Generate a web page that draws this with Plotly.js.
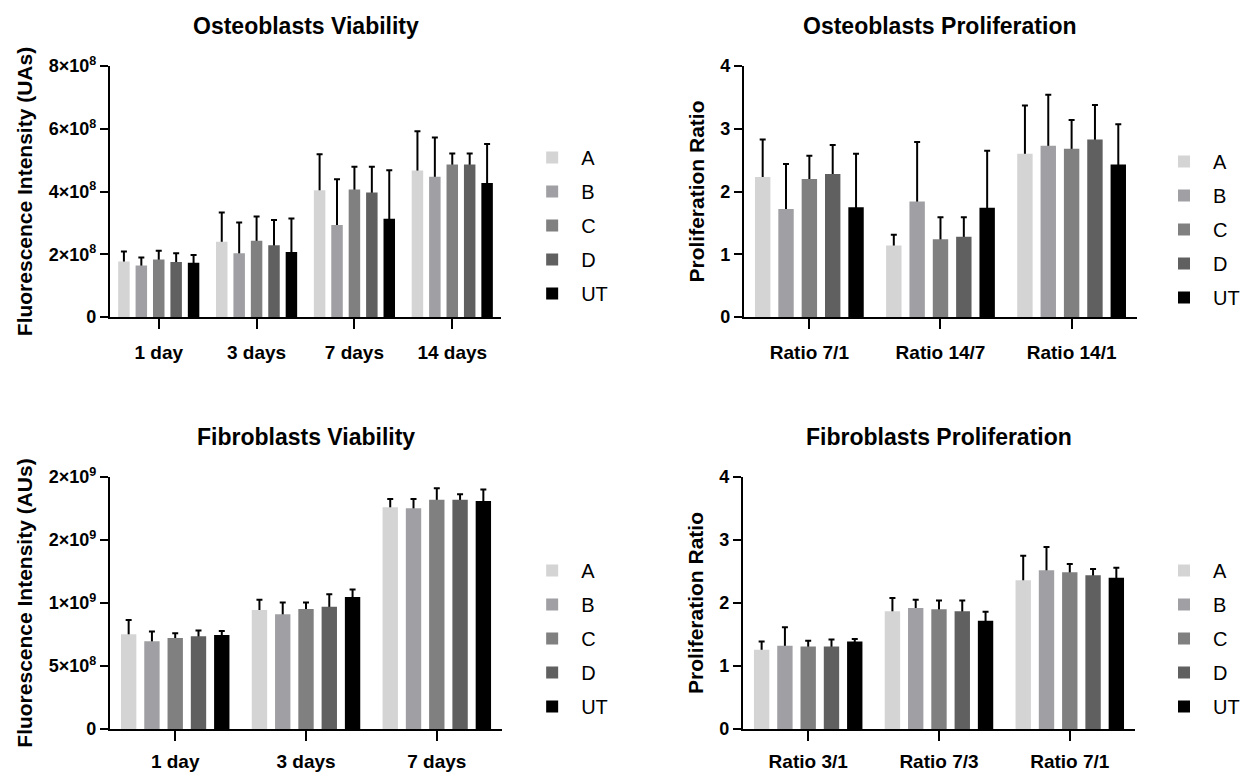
<!DOCTYPE html>
<html><head><meta charset="utf-8">
<script src="https://cdn.plot.ly/plotly-3.0.1.min.js"></script>
<style>html,body{margin:0;padding:0;background:#fff;} #chart{width:1245px;height:774px;}</style>
</head><body><div id="chart"></div>
<script>
// ---------- data ----------
const groups = ['A', 'B', 'C', 'D', 'UT'];

// Osteoblasts Viability (fluorescence, UAs)
const ovCategories = ['1 day', '3 days', '7 days', '14 days'];
const ovA  = [1.77e8, 2.40e8, 4.04e8, 4.67e8];
const ovB  = [1.64e8, 2.03e8, 2.93e8, 4.47e8];
const ovC  = [1.83e8, 2.43e8, 4.06e8, 4.86e8];
const ovD  = [1.75e8, 2.29e8, 3.97e8, 4.86e8];
const ovUT = [1.73e8, 2.07e8, 3.13e8, 4.27e8];
const ovSdA  = [0.32e8, 0.93e8, 1.15e8, 1.25e8];
const ovSdB  = [0.26e8, 0.98e8, 1.46e8, 1.25e8];
const ovSdC  = [0.28e8, 0.77e8, 0.73e8, 0.35e8];
const ovSdD  = [0.28e8, 0.80e8, 0.82e8, 0.35e8];
const ovSdUT = [0.25e8, 1.07e8, 1.55e8, 1.24e8];
const ovTickVals = [0, 2e8, 4e8, 6e8, 8e8];
const ovTickText = ['0', '2×10<sup>8</sup>', '4×10<sup>8</sup>', '6×10<sup>8</sup>', '8×10<sup>8</sup>'];

// Osteoblasts Proliferation (ratio)
const opCategories = ['Ratio 7/1', 'Ratio 14/7', 'Ratio 14/1'];
const opA  = [2.23, 1.14, 2.60];
const opB  = [1.72, 1.84, 2.73];
const opC  = [2.20, 1.24, 2.68];
const opD  = [2.28, 1.28, 2.83];
const opUT = [1.75, 1.74, 2.43];
const opSdA  = [0.60, 0.17, 0.77];
const opSdB  = [0.72, 0.95, 0.81];
const opSdC  = [0.37, 0.35, 0.46];
const opSdD  = [0.46, 0.31, 0.55];
const opSdUT = [0.85, 0.91, 0.64];
const ratioTickVals = [0, 1, 2, 3, 4];
const ratioTickText = ['0', '1', '2', '3', '4'];

// Fibroblasts Viability (fluorescence, AUs)
const fvCategories = ['1 day', '3 days', '7 days'];
const fvA  = [0.752e9, 0.945e9, 1.760e9];
const fvB  = [0.697e9, 0.910e9, 1.752e9];
const fvC  = [0.723e9, 0.953e9, 1.820e9];
const fvD  = [0.736e9, 0.971e9, 1.820e9];
const fvUT = [0.747e9, 1.047e9, 1.810e9];
const fvSdA  = [0.113e9, 0.081e9, 0.066e9];
const fvSdB  = [0.076e9, 0.093e9, 0.074e9];
const fvSdC  = [0.037e9, 0.050e9, 0.090e9];
const fvSdD  = [0.045e9, 0.098e9, 0.043e9];
const fvSdUT = [0.031e9, 0.061e9, 0.090e9];
const fvTickVals = [0, 5e8, 1e9, 1.5e9, 2e9];
const fvTickText = ['0', '5×10<sup>8</sup>', '1×10<sup>9</sup>', '2×10<sup>9</sup>', '2×10<sup>9</sup>'];

// Fibroblasts Proliferation (ratio)
const fpCategories = ['Ratio 3/1', 'Ratio 7/3', 'Ratio 7/1'];
const fpA  = [1.256, 1.87, 2.36];
const fpB  = [1.32, 1.92, 2.52];
const fpC  = [1.31, 1.90, 2.49];
const fpD  = [1.31, 1.87, 2.44];
const fpUT = [1.39, 1.72, 2.40];
const fpSdA  = [0.134, 0.21, 0.39];
const fpSdB  = [0.295, 0.13, 0.37];
const fpSdC  = [0.09, 0.14, 0.13];
const fpSdD  = [0.11, 0.17, 0.10];
const fpSdUT = [0.04, 0.14, 0.16];

// ---------- style ----------
const groupColors = {A: '#d4d4d4', B: '#a0a0a4', C: '#808080', D: '#606060', UT: '#000000'};
const FONT = '"Liberation Sans", Arial, Helvetica, sans-serif';
const W = 1245, H = 774;
const px = v => v / W;
const py = v => 1 - v / H;

const panels = [
  {ax: '', leg: 'legend', cats: ovCategories, means: [ovA, ovB, ovC, ovD, ovUT], sds: [ovSdA, ovSdB, ovSdC, ovSdD, ovSdUT],
   tv: ovTickVals, tt: ovTickText, range: [0, 8e8], ytitle: 'Fluorescence Intensity (UAs)', title: 'Osteoblasts Viability',
   xd: [110, 502], yd: [66, 317], legX: 524, legY: 138, standoff: 7},
  {ax: '2', leg: 'legend2', cats: opCategories, means: [opA, opB, opC, opD, opUT], sds: [opSdA, opSdB, opSdC, opSdD, opSdUT],
   tv: ratioTickVals, tt: ratioTickText, range: [0, 4], ytitle: 'Proliferation Ratio', title: 'Osteoblasts Proliferation',
   xd: [745, 1139], yd: [66, 317], legX: 1157, legY: 142, standoff: 7},
  {ax: '3', leg: 'legend3', cats: fvCategories, means: [fvA, fvB, fvC, fvD, fvUT], sds: [fvSdA, fvSdB, fvSdC, fvSdD, fvSdUT],
   tv: fvTickVals, tt: fvTickText, range: [0, 2e9], ytitle: 'Fluorescence Intensity (AUs)', title: 'Fibroblasts Viability',
   xd: [110, 503], yd: [477, 729], legX: 524, legY: 551, standoff: 4},
  {ax: '4', leg: 'legend4', cats: fpCategories, means: [fpA, fpB, fpC, fpD, fpUT], sds: [fpSdA, fpSdB, fpSdC, fpSdD, fpSdUT],
   tv: ratioTickVals, tt: ratioTickText, range: [0, 4], ytitle: 'Proliferation Ratio', title: 'Fibroblasts Proliferation',
   xd: [744, 1137], yd: [477, 729], legX: 1157, legY: 551, standoff: 4}
];

const traces = [];
const layout = {
  width: W, height: H,
  margin: {l: 0, r: 0, t: 0, b: 0},
  paper_bgcolor: '#ffffff', plot_bgcolor: '#ffffff',
  barmode: 'group', bargap: 0.11, bargroupgap: 0.34,
  font: {family: FONT, color: '#000'},
  showlegend: true,
  annotations: []
};

panels.forEach((p, pi) => {
  const xa = 'x' + p.ax, ya = 'y' + p.ax;
  groups.forEach((g, gi) => {
    // error bars (upper SD), drawn under the visible bar so only the upper part shows
    traces.push({
      type: 'bar', x: p.cats, y: p.means[gi], xaxis: xa, yaxis: ya,
      offsetgroup: g, showlegend: false, hoverinfo: 'skip',
      marker: {color: 'rgba(0,0,0,0)', line: {width: 0}},
      error_y: {type: 'data', symmetric: false, array: p.sds[gi], arrayminus: p.means[gi],
                color: '#000', thickness: 2, width: 3}
    });
    traces.push({
      type: 'bar', name: g, x: p.cats, y: p.means[gi], xaxis: xa, yaxis: ya,
      offsetgroup: g, legend: p.leg, legendgroup: 'p' + pi + g,
      marker: {color: groupColors[g], line: {width: 0}}
    });
  });
  layout['xaxis' + p.ax] = {
    domain: [px(p.xd[0]), px(p.xd[1])], anchor: ya,
    range: [-0.5, p.cats.length - 0.5], type: 'category',
    showline: true, linewidth: 2, linecolor: '#000', mirror: false,
    ticks: 'outside', ticklen: 10, tickwidth: 2, tickcolor: '#000',
    showgrid: false, zeroline: false, fixedrange: true,
    tickfont: {family: FONT, size: 19, color: '#000', weight: 'bold'},
    ticklabelstandoff: p.standoff, automargin: false
  };
  layout['yaxis' + p.ax] = {
    domain: [py(p.yd[1]), py(p.yd[0])], anchor: xa,
    range: p.range, tickmode: 'array', tickvals: p.tv, ticktext: p.tt,
    showline: true, linewidth: 2, linecolor: '#000',
    ticks: 'outside', ticklen: 8, tickwidth: 2, tickcolor: '#000',
    showgrid: false, zeroline: false, fixedrange: true,
    tickfont: {family: FONT, size: 18, color: '#000', weight: 'bold'},
    title: {text: p.ytitle, font: {family: FONT, size: 21, color: '#000', weight: 'bold'}, standoff: 10},
    automargin: false
  };
  layout[p.leg] = {
    x: px(p.legX), y: py(p.legY), xanchor: 'left', yanchor: 'top',
    font: {family: FONT, size: 20, color: '#000'},
    bgcolor: 'rgba(0,0,0,0)', borderwidth: 0,
    traceorder: 'grouped', tracegroupgap: 5, itemwidth: 48
  };
  layout.annotations.push({
    text: p.title, xref: xa + ' domain', x: 0.5, xanchor: 'center',
    yref: 'paper', y: py(p.yd[0] - 40), yanchor: 'middle', showarrow: false,
    font: {family: FONT, size: 23, color: '#000', weight: 'bold'}
  });
});

Plotly.newPlot('chart', traces, layout, {displayModeBar: false, staticPlot: true});
</script>
</body></html>
